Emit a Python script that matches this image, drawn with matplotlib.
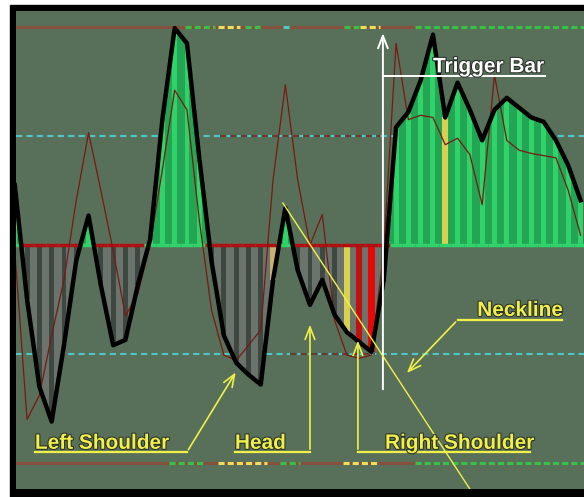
import matplotlib
matplotlib.use("Agg")
import matplotlib.pyplot as plt
import matplotlib.patheffects as pe
import numpy as np

# bar index (one histogram stripe per bar)
bars = list(range(-1, 46))

# thick black oscillator line / histogram height
osc = [0.55, -0.50, -1.30, -1.62, -0.92, -0.14, 0.27, -0.37, -0.92, -0.87,
       -0.37, 0.05, 1.15, 1.99, 1.85, 0.80, -0.15, -0.83, -1.08, -1.19,
       -1.28, -0.32, 0.34, -0.23, -0.55, -0.32, -0.64, -0.80, -0.89, -0.98,
       -0.32, 1.08, 1.22, 1.51, 1.93, 1.17, 1.49, 1.24, 0.96, 1.24,
       1.35, 1.26, 1.17, 1.13, 0.96, 0.73, 0.41]

# thin dark red signal line
signal = [-0.05, -1.60, -1.38, -0.83, -0.32, 0.41, 1.03, 0.50, -0.05, -0.65,
          -0.45, 0.00, 0.69, 1.42, 1.24, 0.23, -0.60, -1.01, -1.06, -0.92,
          -0.78, 0.60, 1.47, 0.60, 0.00, 0.28, -0.69, -1.01, -1.04, -1.01,
          -0.05, 1.85, 1.15, 1.19, 1.17, 0.92, 0.98, 0.83, 0.37, 1.56,
          0.96, 0.87, 0.84, 0.82, 0.80, 0.50, 0.09]

# bars with a special colour
special = {20: '#c8b070', 26: '#d8d050', 27: '#c01010', 28: '#e80808', 34: '#d8d050'}

levels = [2, 1, -1, -2]

bg = '#587059'
green_hi = '#2fd36a'
green_lo = '#23a553'
gray_hi = '#3e4840'
gray_lo = '#6a746c'
brown = '#85503e'
cyan = '#4cc8c8'
yellow = '#f0f048'

fig = plt.figure(figsize=(5.84, 4.97), dpi=100)
fig.patch.set_facecolor('white')
fig.add_artist(plt.Rectangle((10 / 584, 0), 1, 492 / 497, transform=fig.transFigure,
                             color='black', zorder=0))
ax = fig.add_axes([16 / 584, 8 / 497, 568 / 584, 478 / 497])
ax.set_facecolor(bg)
ax.set_xlim(-0.9, 45.28)
ax.set_ylim(-2.239, 2.147)
ax.set_xticks([])
ax.set_yticks([])
for s in ax.spines.values():
    s.set_visible(False)

x = np.array(bars)
y = np.array(osc)

# level lines
for lv in (2, -2):
    ax.plot([-1, 31.5], [lv, lv], color=brown, lw=2.2, zorder=1)
    ax.plot([31.5, 46], [lv, lv], color='#38c048', lw=2.2, ls=(0, (2, 1)), zorder=1)
for a, b_, c in [(12.8, 15.3, '#38c048'), (15.5, 17.3, '#e8e060'), (17.7, 18.9, '#38c048'),
                 (20.8, 21.5, cyan), (25.8, 27.0, '#38c048'), (27.1, 28.7, '#e8e060')]:
    ax.plot([a, b_], [2, 2], color=c, lw=2.2, ls=(0, (2, 1)), zorder=1)
for a, b_, c in [(11.5, 14.3, '#38c048'), (15.5, 19.5, '#e8e060'), (20.6, 22.2, '#38c048'),
                 (25.7, 28.5, '#e8e060')]:
    ax.plot([a, b_], [-2, -2], color=c, lw=2.2, ls=(0, (2, 1)), zorder=1)
for lv in (1, -1):
    ax.axhline(lv, color=cyan, lw=1.5, ls=(0, (3, 2)), zorder=1)
ax.plot([15.7, 28.7], [1, 1], color='#6a3a30', lw=1.5, ls=(0, (3, 2)), zorder=1)
ax.plot([21.4, 28.3], [-1, -1], color='#6a3a30', lw=1.5, ls=(0, (3, 2)), zorder=1)

# histogram fill and stripes
ax.fill_between(x, 0, y, where=y > 0, interpolate=True, color=green_lo, lw=0, zorder=2)
ax.fill_between(x, 0, y, where=y < 0, interpolate=True, color=gray_lo, lw=0, zorder=2)
cols = []
widths = []
for b, v in zip(bars, osc):
    if b in special:
        cols.append(special[b])
        widths.append(0.5)
    else:
        cols.append(green_hi if v > 0 else gray_hi)
        widths.append(0.4)
ax.bar(x, y, width=widths, color=cols, lw=0, zorder=3)

# zero line: red under falling part, green under rising part
base_cols = ['#b01010' if v < 0 else green_hi for v in osc]
ax.hlines(np.zeros(len(bars)), x - 0.5, x + 0.5, colors=base_cols, lw=2.5, zorder=3)

ax.plot(x, signal, color='#7a1812', lw=0.9, zorder=4)
ax.plot(x, y, color='black', lw=3.2, solid_joinstyle='round', zorder=5)

# annotations
fp = dict(family='Liberation Sans', weight='bold', size=15)
shadow = [pe.withStroke(linewidth=1.5, foreground='#2a302a')]

# trigger bar
ax.annotate('', xy=(28.93, 1.97), xytext=(28.93, -1.35),
            arrowprops=dict(arrowstyle='->,head_length=0.9,head_width=0.35',
                            color='white', lw=1.4), zorder=6)
ax.plot([28.93, 42.1], [1.55, 1.55], color='white', lw=1.4, zorder=6)
ax.text(33.0, 1.585, 'Trigger Bar', color='white', fontdict=fp, va='baseline',
        path_effects=shadow, zorder=7)

yarrow = dict(arrowstyle='->,head_length=0.9,head_width=0.35', color=yellow, lw=1.2)

# neckline
ax.plot(np.array([20.8, 36.3]), np.array([0.385, 0.385 - 15.5 * 12.3 / 109 * 1.53]),
        color=yellow, lw=1.0, zorder=6)
ax.text(36.6, -0.651, 'Neckline', color=yellow, fontdict=fp, va='baseline',
        path_effects=shadow, zorder=7)
ax.plot([35.0, 43.5], [-0.688, -0.688], color=yellow, lw=1.6, zorder=6)
ax.annotate('', xy=(30.72, -1.193), xytext=(35.0, -0.688), arrowprops=yarrow, zorder=6)

# left shoulder
ax.text(0.64, -1.87, 'Left Shoulder', color=yellow, fontdict=fp, va='baseline',
        path_effects=shadow, zorder=7)
ax.plot([0.64, 13.0], [-1.899, -1.899], color=yellow, lw=1.6, zorder=6)
ax.annotate('', xy=(17.08, -1.147), xytext=(13.0, -1.899), arrowprops=yarrow, zorder=6)

# head
ax.text(16.9, -1.87, 'Head', color=yellow, fontdict=fp, va='baseline',
        path_effects=shadow, zorder=7)
ax.plot([16.9, 23.0], [-1.899, -1.899], color=yellow, lw=1.6, zorder=6)
ax.annotate('', xy=(23.0, -0.706), xytext=(23.0, -1.899), arrowprops=yarrow, zorder=6)

# right shoulder
ax.text(29.1, -1.87, 'Right Shoulder', color=yellow, fontdict=fp, va='baseline',
        path_effects=shadow, zorder=7)
ax.plot([26.9, 40.9], [-1.899, -1.899], color=yellow, lw=1.6, zorder=6)
ax.annotate('', xy=(26.9, -0.853), xytext=(26.9, -1.899), arrowprops=yarrow, zorder=6)

fig.savefig('out.png', dpi=100, facecolor='white')
